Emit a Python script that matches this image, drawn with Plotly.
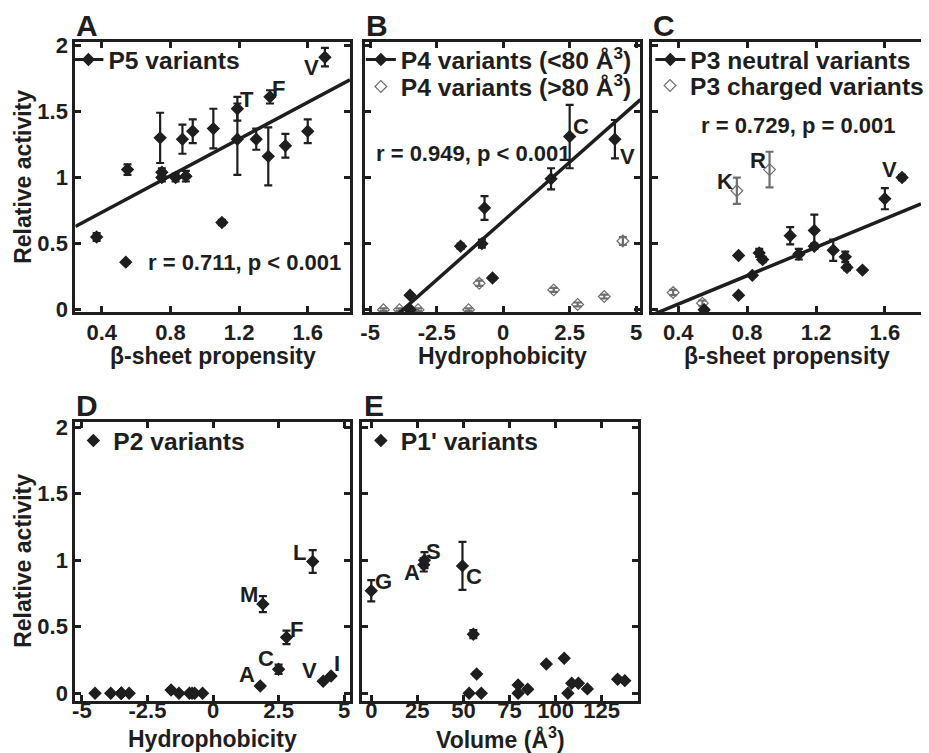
import numpy as np
import plotly.graph_objects as go

# ---------------- data ----------------
# Panel A: P5 variants vs beta-sheet propensity
a_x = [0.37, 0.54, 0.55, 0.74, 0.75, 0.75, 0.83, 0.87, 0.89, 0.93, 1.05, 1.10, 1.19, 1.19, 1.30, 1.37, 1.38, 1.47, 1.60, 1.70]
a_y = [0.55, 0.36, 1.06, 1.30, 1.04, 1.00, 1.00, 1.29, 1.01, 1.35, 1.37, 0.66, 1.29, 1.52, 1.29, 1.16, 1.61, 1.24, 1.35, 1.91]
a_err = [0.03, 0.01, 0.04, 0.19, 0.03, 0.03, 0.03, 0.11, 0.04, 0.09, 0.15, 0.02, 0.27, 0.09, 0.08, 0.22, 0.05, 0.09, 0.09, 0.07]
a_lab = ["", "", "", "", "", "", "", "", "", "", "", "", "", "T", "", "", "F", "", "", "V"]
a_fit = (0.694, 0.459)  # slope, intercept

# Panel B: P4 variants vs hydrophobicity
b1_x = [-3.5, -3.5, -1.6, -0.8, -0.7, -0.4, 1.8, 2.5, 4.2]
b1_y = [0.11, 0.00, 0.48, 0.50, 0.77, 0.24, 0.99, 1.31, 1.29]
b1_err = [0.01, 0.01, 0.02, 0.03, 0.09, 0.01, 0.08, 0.24, 0.145]
b1_lab = ["", "", "", "", "", "", "", "C", "V"]
b2_x = [-4.5, -3.9, -3.5, -3.5, -3.2, -1.3, -0.9, 1.9, 2.8, 3.8, 4.5]
b2_y = [0.00, 0.00, 0.00, 0.00, 0.00, 0.00, 0.20, 0.15, 0.04, 0.10, 0.52]
b2_err = [0.01, 0.01, 0.0, 0.0, 0.01, 0.01, 0.02, 0.015, 0.015, 0.015, 0.03]
b_fit = (0.178, 0.671)

# Panel C: P3 variants vs beta-sheet propensity
c1_x = [0.55, 0.75, 0.75, 0.83, 0.87, 0.89, 1.05, 1.10, 1.19, 1.19, 1.30, 1.37, 1.38, 1.47, 1.60, 1.70]
c1_y = [0.00, 0.11, 0.41, 0.26, 0.43, 0.38, 0.56, 0.42, 0.60, 0.48, 0.45, 0.40, 0.32, 0.30, 0.84, 1.00]
c1_err = [0.01, 0.01, 0.01, 0.01, 0.03, 0.02, 0.065, 0.04, 0.12, 0.02, 0.08, 0.04, 0.02, 0.01, 0.08, 0.02]
c1_lab = ["", "", "", "", "", "", "", "", "", "", "", "", "", "", "", "V"]
c2_x = [0.37, 0.54, 0.74, 0.93]
c2_y = [0.13, 0.05, 0.90, 1.06]
c2_err = [0.02, 0.02, 0.10, 0.135]
c2_lab = ["", "", "K", "R"]
c_fit = (0.537, -0.172)

# Panel D: P2 variants vs hydrophobicity
d_x = [-4.5, -3.9, -3.5, -3.5, -3.5, -3.5, -3.2, -1.6, -1.3, -0.9, -0.8, -0.7, -0.4, 1.8, 1.9, 2.5, 2.8, 3.8, 4.2, 4.5]
d_y = [0.0, 0.0, 0.0, 0.0, 0.0, 0.0, 0.0, 0.025, 0.0, 0.0, 0.0, 0.0, 0.0, 0.055, 0.67, 0.18, 0.42, 0.99, 0.09, 0.13]
d_err = [0, 0, 0, 0, 0, 0, 0, 0.01, 0, 0, 0, 0, 0, 0.01, 0.06, 0.035, 0.05, 0.085, 0.01, 0.01]
d_lab = ["", "", "", "", "", "", "", "", "", "", "", "", "", "A", "M", "C", "F", "L", "V", "I"]

# Panel E: P1' variants vs volume
e_x = [0.0, 28.5, 28.9, 49.5, 53.1, 55.4, 57.2, 59.7, 79.7, 79.7, 84.9, 95.0, 104.7, 106.7, 108.8, 112.4, 117.3, 133.7, 137.6]
e_y = [0.77, 0.965, 1.00, 0.957, 0.0, 0.444, 0.145, 0.0, 0.063, 0.0, 0.03, 0.22, 0.263, 0.0, 0.075, 0.075, 0.033, 0.105, 0.095]
e_err = [0.08, 0.05, 0.06, 0.18, 0, 0.03, 0.01, 0, 0.01, 0, 0.01, 0.01, 0.01, 0, 0.01, 0.01, 0.01, 0.01, 0.01]
e_lab = ["G", "A", "S", "C", "", "", "", "", "", "", "", "", "", "", "", "", "", "", ""]

beta_ticks = [0.4, 0.8, 1.2, 1.6]
beta_ticktext = ["0.4", "0.8", "1.2", "1.6"]
hyd_ticks = [-5, -2.5, 0, 2.5, 5]
hyd_ticktext = ["-5", "-2.5", "0", "2.5", "5"]
vol_ticks = [0, 25, 50, 75, 100, 125]
act_ticks = [0, 0.5, 1, 1.5, 2]
act_ticktext = ["0", "0.5", "1", "1.5", "2"]

# ---------------- style / layout helpers ----------------
W, H = 929, 753
FONT = "Liberation Sans, Arial, Helvetica, sans-serif"
INK = "#1e1e1e"
GRAY = "#6e6e6e"

def fx(p):
    return p / W

def fy(p):
    return 1 - p / H

def bold(size):
    return dict(size=size, family=FONT, color=INK, weight="bold")

fig = go.Figure()

def data_trace(x, y, err, axn, open_marker=False):
    color = GRAY if open_marker else INK
    return go.Scatter(
        x=x, y=y, mode="markers",
        marker=dict(symbol="diamond-open" if open_marker else "diamond", size=9,
                    color=color, line=dict(color=color, width=1.2)),
        error_y=dict(type="data", array=err, visible=True, thickness=2.2, width=4, color=color),
        xaxis="x" + axn, yaxis="y" + axn, showlegend=False,
    )

def legend_entry(name, legend, with_line=True, open_marker=False):
    color = GRAY if open_marker else INK
    return go.Scatter(
        x=[None], y=[None], mode="lines+markers" if with_line else "markers",
        name=name, legend=legend,
        line=dict(color=INK, width=3),
        marker=dict(symbol="diamond-open" if open_marker else "diamond", size=9,
                    color=color, line=dict(color=color, width=1.2)),
        showlegend=True,
    )

def fit_trace(fit, xr, axn):
    xs = np.array(xr)
    return go.Scatter(x=xs, y=fit[0] * xs + fit[1], mode="lines",
                      line=dict(color=INK, width=3.5),
                      xaxis="x" + axn, yaxis="y" + axn, showlegend=False, hoverinfo="skip")

# axis ranges
A_xr = [0.246, 1.846]
B_xr = [-5.2, 5.16]
C_xr = [0.249, 1.81]
D_xr = [-5.25, 5.22]
E_xr = [-5.1, 145.0]
top_yr = [-0.017, 2.025]
bot_yr = [-0.058, 2.038]

# Panel A
fig.add_trace(fit_trace(a_fit, A_xr, ""))
fig.add_trace(data_trace(a_x, a_y, a_err, ""))
fig.add_trace(legend_entry("P5 variants", "legend"))

# Panel B
fig.add_trace(data_trace(b2_x, b2_y, b2_err, "2", open_marker=True))
fig.add_trace(fit_trace(b_fit, B_xr, "2"))
fig.add_trace(data_trace(b1_x, b1_y, b1_err, "2"))
fig.add_trace(legend_entry("P4 variants (&lt;80 Å<sup>3</sup>)", "legend2"))
fig.add_trace(legend_entry("P4 variants (&gt;80 Å<sup>3</sup>)", "legend6", with_line=False, open_marker=True))

# Panel C
fig.add_trace(fit_trace(c_fit, C_xr, "3"))
fig.add_trace(data_trace(c2_x, c2_y, c2_err, "3", open_marker=True))
fig.add_trace(data_trace(c1_x, c1_y, c1_err, "3"))
fig.add_trace(legend_entry("P3 neutral variants", "legend3"))
fig.add_trace(legend_entry("P3 charged variants", "legend7", with_line=False, open_marker=True))

# Panel D
fig.add_trace(data_trace(d_x, d_y, d_err, "4"))
fig.add_trace(legend_entry("P2 variants", "legend4", with_line=False))

# Panel E
fig.add_trace(data_trace(e_x, e_y, e_err, "5"))
fig.add_trace(legend_entry("P1' variants", "legend5", with_line=False))

def xaxis(x0, x1, rng, tickvals, ticktext, anchor, standoff):
    return dict(domain=[fx(x0), fx(x1)], range=rng, anchor=anchor,
                tickvals=tickvals, ticktext=ticktext,
                showline=True, linewidth=3, linecolor=INK, mirror="ticks",
                ticks="inside", ticklen=6, tickwidth=2.5, tickcolor=INK,
                showgrid=False, zeroline=False, automargin=False,
                ticklabelstandoff=standoff, tickfont=bold(22))

def yaxis(y0, y1, rng, show_labels, anchor, mirror="ticks"):
    return dict(domain=[fy(y1), fy(y0)], range=rng, anchor=anchor,
                tickvals=act_ticks, ticktext=act_ticktext, showticklabels=show_labels,
                showline=True, linewidth=3, linecolor=INK, mirror=mirror,
                ticks="inside", ticklen=6, tickwidth=2.5, tickcolor=INK,
                showgrid=False, zeroline=False, automargin=False,
                tickfont=bold(22))

layout = dict(
    width=W, height=H, margin=dict(l=0, r=0, t=0, b=0),
    paper_bgcolor="white", plot_bgcolor="white",
    font=dict(family=FONT, color=INK, weight="bold"),
    xaxis=xaxis(76, 353, A_xr, beta_ticks, beta_ticktext, "y", -1),
    yaxis=yaxis(42, 312, top_yr, True, "x"),
    xaxis2=xaxis(368, 646, B_xr, hyd_ticks, hyd_ticktext, "y2", -1),
    yaxis2=yaxis(42, 312, top_yr, False, "x2"),
    xaxis3=xaxis(658, 929, C_xr, beta_ticks, beta_ticktext, "y3", -1),
    yaxis3=yaxis(42, 312, top_yr, False, "x3", mirror=False),
    xaxis4=xaxis(76, 353, D_xr, hyd_ticks, hyd_ticktext, "y4", -12),
    yaxis4=yaxis(422, 701, bot_yr, True, "x4"),
    xaxis5=xaxis(365, 644, E_xr, vol_ticks, [str(v) for v in vol_ticks], "y5", -12),
    yaxis5=yaxis(422, 701, bot_yr, False, "x5"),
)

def legend_box(x0, y0):
    return dict(x=fx(x0), y=fy(y0), xanchor="left", yanchor="top",
                bgcolor="rgba(0,0,0,0)", borderwidth=0, itemwidth=30,
                font=bold(24.6), tracegroupgap=0)

layout["legend"] = legend_box(69, 37)
layout["legend2"] = legend_box(364, 37)
layout["legend6"] = legend_box(364, 64)
layout["legend3"] = legend_box(656, 37)
layout["legend7"] = legend_box(656, 63)
layout["legend4"] = legend_box(74, 418)
layout["legend5"] = legend_box(364, 418)

fig.update_layout(**layout)

# axis titles
axis_titles = [("β-sheet propensity", 214.5, 356), ("Hydrophobicity", 507, 356),
               ("β-sheet propensity", 793.5, 356), ("Hydrophobicity", 214, 739),
               ("Volume (Å<sup>3</sup>)", 505, 738)]
for txt, px, py in axis_titles:
    fig.add_annotation(text=txt, xref="paper", yref="paper", x=fx(px), y=fy(py),
                       xanchor="center", yanchor="middle", showarrow=False, font=bold(23))
for py in (177, 561):
    fig.add_annotation(text="Relative activity", xref="paper", yref="paper", x=fx(23), y=fy(py),
                       xanchor="center", yanchor="middle", textangle=-90, showarrow=False,
                       font=bold(23))

# panel letters
panel_letters = [("A", 75, 7), ("B", 367, 7), ("C", 657, 7), ("D", 75, 387), ("E", 365, 387)]
for letter, px, py in panel_letters:
    fig.add_annotation(text=letter, xref="paper", yref="paper", x=fx(px), y=fy(py),
                       xanchor="left", yanchor="top", showarrow=False, font=bold(30))

# statistics text
stats = [("r = 0.711, p &lt; 0.001", "x", "y", 0.66, 0.36),
         ("r = 0.949, p &lt; 0.001", "x2", "y2", -4.87, 1.18),
         ("r = 0.729, p = 0.001", "x3", "y3", 0.518, 1.39)]
for txt, xr_, yr_, xv, yv in stats:
    fig.add_annotation(text=txt, xref=xr_, yref=yr_, x=xv, y=yv, xanchor="left", yanchor="middle",
                       showarrow=False, font=bold(22))

# residue labels next to their points (pixel offsets of label centre from point)
label_offsets = {
    "": {"T": (10, 9), "F": (9, 8), "V": (-13, -10)},
    "2": {"C": (11, 10), "V": (13, -17)},
    "3": {"K": (-12, 9), "R": (-12, 9), "V": (-13, 8)},
    "4": {"L": (-13, 9), "M": (-14, 10), "F": (10, 8), "C": (-13, 11), "A": (-13, 11),
          "V": (-14, 11), "I": (6, 12)},
    "5": {"G": (12, 9), "A": (-12, -8), "S": (9, 9), "C": (12, -11)},
}
label_sets = [(a_x, a_y, a_lab, ""), (b1_x, b1_y, b1_lab, "2"), (c1_x, c1_y, c1_lab, "3"),
              (c2_x, c2_y, c2_lab, "3"), (d_x, d_y, d_lab, "4"), (e_x, e_y, e_lab, "5")]
for xs, ys, labs, axn in label_sets:
    for xv, yv, lab in zip(xs, ys, labs):
        if not lab:
            continue
        dx, dy = label_offsets[axn][lab]
        fig.add_annotation(text=lab, xref="x" + axn, yref="y" + axn, x=xv, y=yv,
                           xshift=dx, yshift=dy, xanchor="center", yanchor="middle",
                           showarrow=False, font=bold(22))

fig.write_html("out.html")
